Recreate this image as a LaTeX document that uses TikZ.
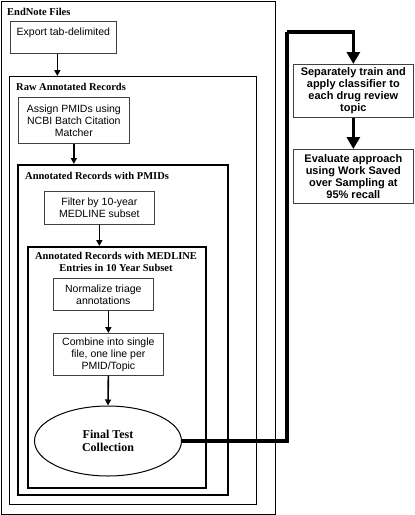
\documentclass[tikz,border=0pt]{standalone}
\usepackage{fontspec}
\setmainfont{Liberation Serif}
\newfontfamily\arialfont{Liberation Sans}
\usetikzlibrary{arrows.meta,shapes.geometric}

\tikzset{
  group/.style={draw, line width=1.3pt, anchor=north west, inner sep=0pt},
  heavygroup/.style={group, line width=2.2pt},
  grouptitle/.style={font=\bfseries\fontsize{10.5}{12}\selectfont, inner sep=0pt, align=center},
  stepbox/.style={draw=black!75, line width=0.7pt, anchor=north west, inner sep=0pt, align=center,
    font=\arialfont\fontsize{10.5}{12}\selectfont},
  resultbox/.style={stepbox, font=\arialfont\bfseries\fontsize{11}{12}\selectfont},
  flow/.style={line width=1.6pt, -{Triangle[length=6pt,width=6pt]}},
  bigflow/.style={line width=3.6pt, -{Triangle[length=12pt,width=13pt]}}
}

\begin{document}
\begin{tikzpicture}[x=1pt,y=1pt,yscale=-1,xscale=1]
\useasboundingbox (0,0) rectangle (415,515); %whole picture is 415 wide and 515 high

%Nested groups
\node[group, minimum width=274, minimum height=513] (endnote) at (1,1) {};
\node[group, minimum width=247, minimum height=428] (raw) at (9,76) {};
\node[heavygroup, minimum width=210, minimum height=330] (pmid) at (17,164) {};
\node[heavygroup, minimum width=178, minimum height=241] (medline) at (27,246) {};

%Group titles
\node[grouptitle, anchor=west] (endnotetitle) at (7,12) {EndNote Files};
\node[grouptitle, anchor=west] (rawtitle) at (16,87) {Raw Annotated Records};
\node[grouptitle, anchor=west] (pmidtitle) at (25,176) {Annotated Records with PMIDs};
\node[grouptitle] (medlinetitle) at (116,262) {Annotated Records with MEDLINE\\Entries in 10 Year Subset};

%Processing steps
\node[stepbox, minimum width=106, minimum height=32] (export) at (10,21) {Export tab-delimited\\\mbox{}};
\node[stepbox, minimum width=111, minimum height=46] (assign) at (18,97) {Assign PMIDs using\\NCBI Batch Citation\\Matcher};
\node[stepbox, minimum width=110, minimum height=33] (filter) at (44,191) {Filter by 10-year\\MEDLINE subset};
\node[stepbox, minimum width=100, minimum height=32] (normalize) at (53,278) {Normalize triage\\annotations};
\node[stepbox, minimum width=110, minimum height=42] (combine) at (53,333) {Combine into single\\file, one line per\\PMID/Topic};

%Final collection
\node[ellipse, draw, line width=1pt, minimum width=147, minimum height=70, inner sep=0pt, align=center,
  font=\bfseries\fontsize{12}{13}\selectfont] (final) at (108,441) {Final Test\\Collection};

%Classifier steps
\node[resultbox, minimum width=120, minimum height=53] (train) at (293,64) {Separately train and\\apply classifier to\\each drug review\\topic};
\node[resultbox, minimum width=120, minimum height=54] (evaluate) at (293,149) {Evaluate approach\\using Work Saved\\over Sampling at\\95\% recall};

%Arrows
\draw[flow] ([xshift=-6pt]export.south) -- ([xshift=-6pt]export.south |- raw.north);
\draw[flow] (assign.south) -- (assign.south |- pmid.north);
\draw[flow] (filter.south) -- (filter.south |- medline.north);
\draw[flow] (normalize.south -| combine.north) -- (combine.north);
\draw[flow] (combine.south) -- (final.north);

\coordinate (turn) at (287,32);
\draw[line width=3.6pt] (final.east) -| (turn);
\draw[bigflow] (turn) -| (train.north);
\draw[bigflow] (train.south) -- (evaluate.north);

\end{tikzpicture}
\end{document}
